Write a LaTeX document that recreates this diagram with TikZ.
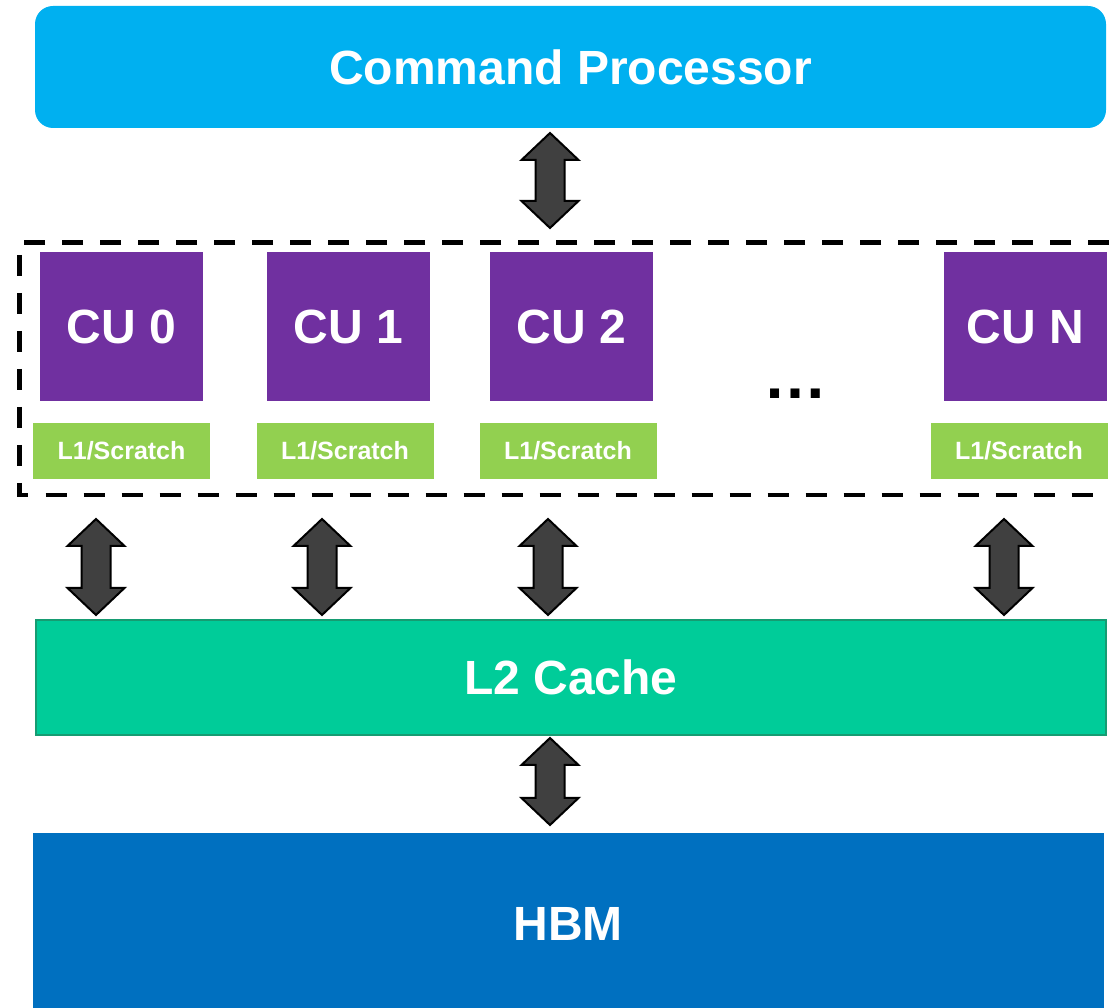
\documentclass[tikz,border=0pt]{standalone}
\usepackage{fontspec}
\setmainfont{Liberation Sans}
\usetikzlibrary{calc}

\definecolor{cpblue}{HTML}{00B0F0}
\definecolor{cupurple}{HTML}{7030A0}
\definecolor{lonegreen}{HTML}{92D050}
\definecolor{ltwofill}{HTML}{00CC99}
\definecolor{ltwoedge}{HTML}{169C72}
\definecolor{hbmblue}{HTML}{0070C0}
\definecolor{arrowgray}{HTML}{404040}

\tikzset{
  block/.style={draw=none, inner sep=0pt, text=white, font=\bfseries\fontsize{48}{56}\selectfont},
  cubox/.style={block, fill=cupurple, minimum width=163pt, minimum height=149pt},
  cachebox/.style={draw=none, fill=lonegreen, inner sep=0pt, text=white,
    minimum width=177pt, minimum height=56pt, font=\bfseries\fontsize{25}{28}\selectfont},
  dashframe/.style={draw=black, line width=4.5pt, dash pattern=on 21pt off 17pt},
  fatarrow/.style={draw=black, fill=arrowgray, line width=2pt, line join=miter},
}

% thick double-headed arrow between two points on a vertical line
\newcommand\fatlink[2]{%
  \path[fatarrow] let \p1=(#1), \p2=(#2) in
    (\x1,\y1) -- (\x1+28.5pt,\y1-27pt) -- (\x1+14.5pt,\y1-27pt)
    -- (\x1+14.5pt,\y2+27pt) -- (\x1+28.5pt,\y2+27pt) -- (\x2,\y2)
    -- (\x1-28.5pt,\y2+27pt) -- (\x1-14.5pt,\y2+27pt)
    -- (\x1-14.5pt,\y1-27pt) -- (\x1-28.5pt,\y1-27pt) -- cycle;}

\begin{document}
\begin{tikzpicture}[x=1pt,y=1pt]
\useasboundingbox (0,0) rectangle (1109,1008);

% command processor
\node[block, fill=cpblue, rounded corners=18pt, minimum width=1071pt, minimum height=122pt]
  (cp) at (570.5,941) {Command Processor};

% compute units and their L1 caches
\node[cubox] (cu0) at (121.5,681.5) {CU 0};
\node[cubox] (cu1) at (348.5,681.5) {CU 1};
\node[cubox] (cu2) at (571.5,681.5) {CU 2};
\node[cubox] (cun) at (1025.5,681.5) {CU N};

\node[cachebox] (l10) at (121.5,557) {L1/Scratch};
\node[cachebox] (l11) at (345,557) {L1/Scratch};
\node[cachebox] (l12) at (568,557) {L1/Scratch};
\node[cachebox] (l1n) at (1019,557) {L1/Scratch};

\node[anchor=base, inner sep=0pt, font=\bfseries\fontsize{64}{70}\selectfont] (dots) at (795,609) {…};

% frame around the compute units
\draw[dashframe] (1109,765.5) -- (19.5,765.5) -- (19.5,513) -- (1109,513);

% L2 cache
\node[draw=ltwoedge, line width=2.5pt, fill=ltwofill, inner sep=0pt, text=white,
  minimum width=1070pt, minimum height=115pt, font=\bfseries\fontsize{48}{56}\selectfont]
  (l2) at (571,330.5) {L2 Cache};

% HBM
\node[block, fill=hbmblue, minimum width=1071pt, minimum height=175pt]
  (hbm) at (568.5,87.5) {};
\node[block] (hbmtext) at (568,84) {HBM};

% arrow end points
\coordinate (cpA) at (550,875);
\coordinate (cpB) at (550,780);
\coordinate (u0) at (96,489);   \coordinate (d0) at (96,393);
\coordinate (u1) at (322,489);  \coordinate (d1) at (322,393);
\coordinate (u2) at (548,489);  \coordinate (d2) at (548,393);
\coordinate (un) at (1004,489); \coordinate (dn) at (1004,393);
\coordinate (l2A) at (550,270);
\coordinate (l2B) at (550,183);

\fatlink{cpA}{cpB}
\fatlink{u0}{d0}
\fatlink{u1}{d1}
\fatlink{u2}{d2}
\fatlink{un}{dn}
\fatlink{l2A}{l2B}
\end{tikzpicture}
\end{document}
